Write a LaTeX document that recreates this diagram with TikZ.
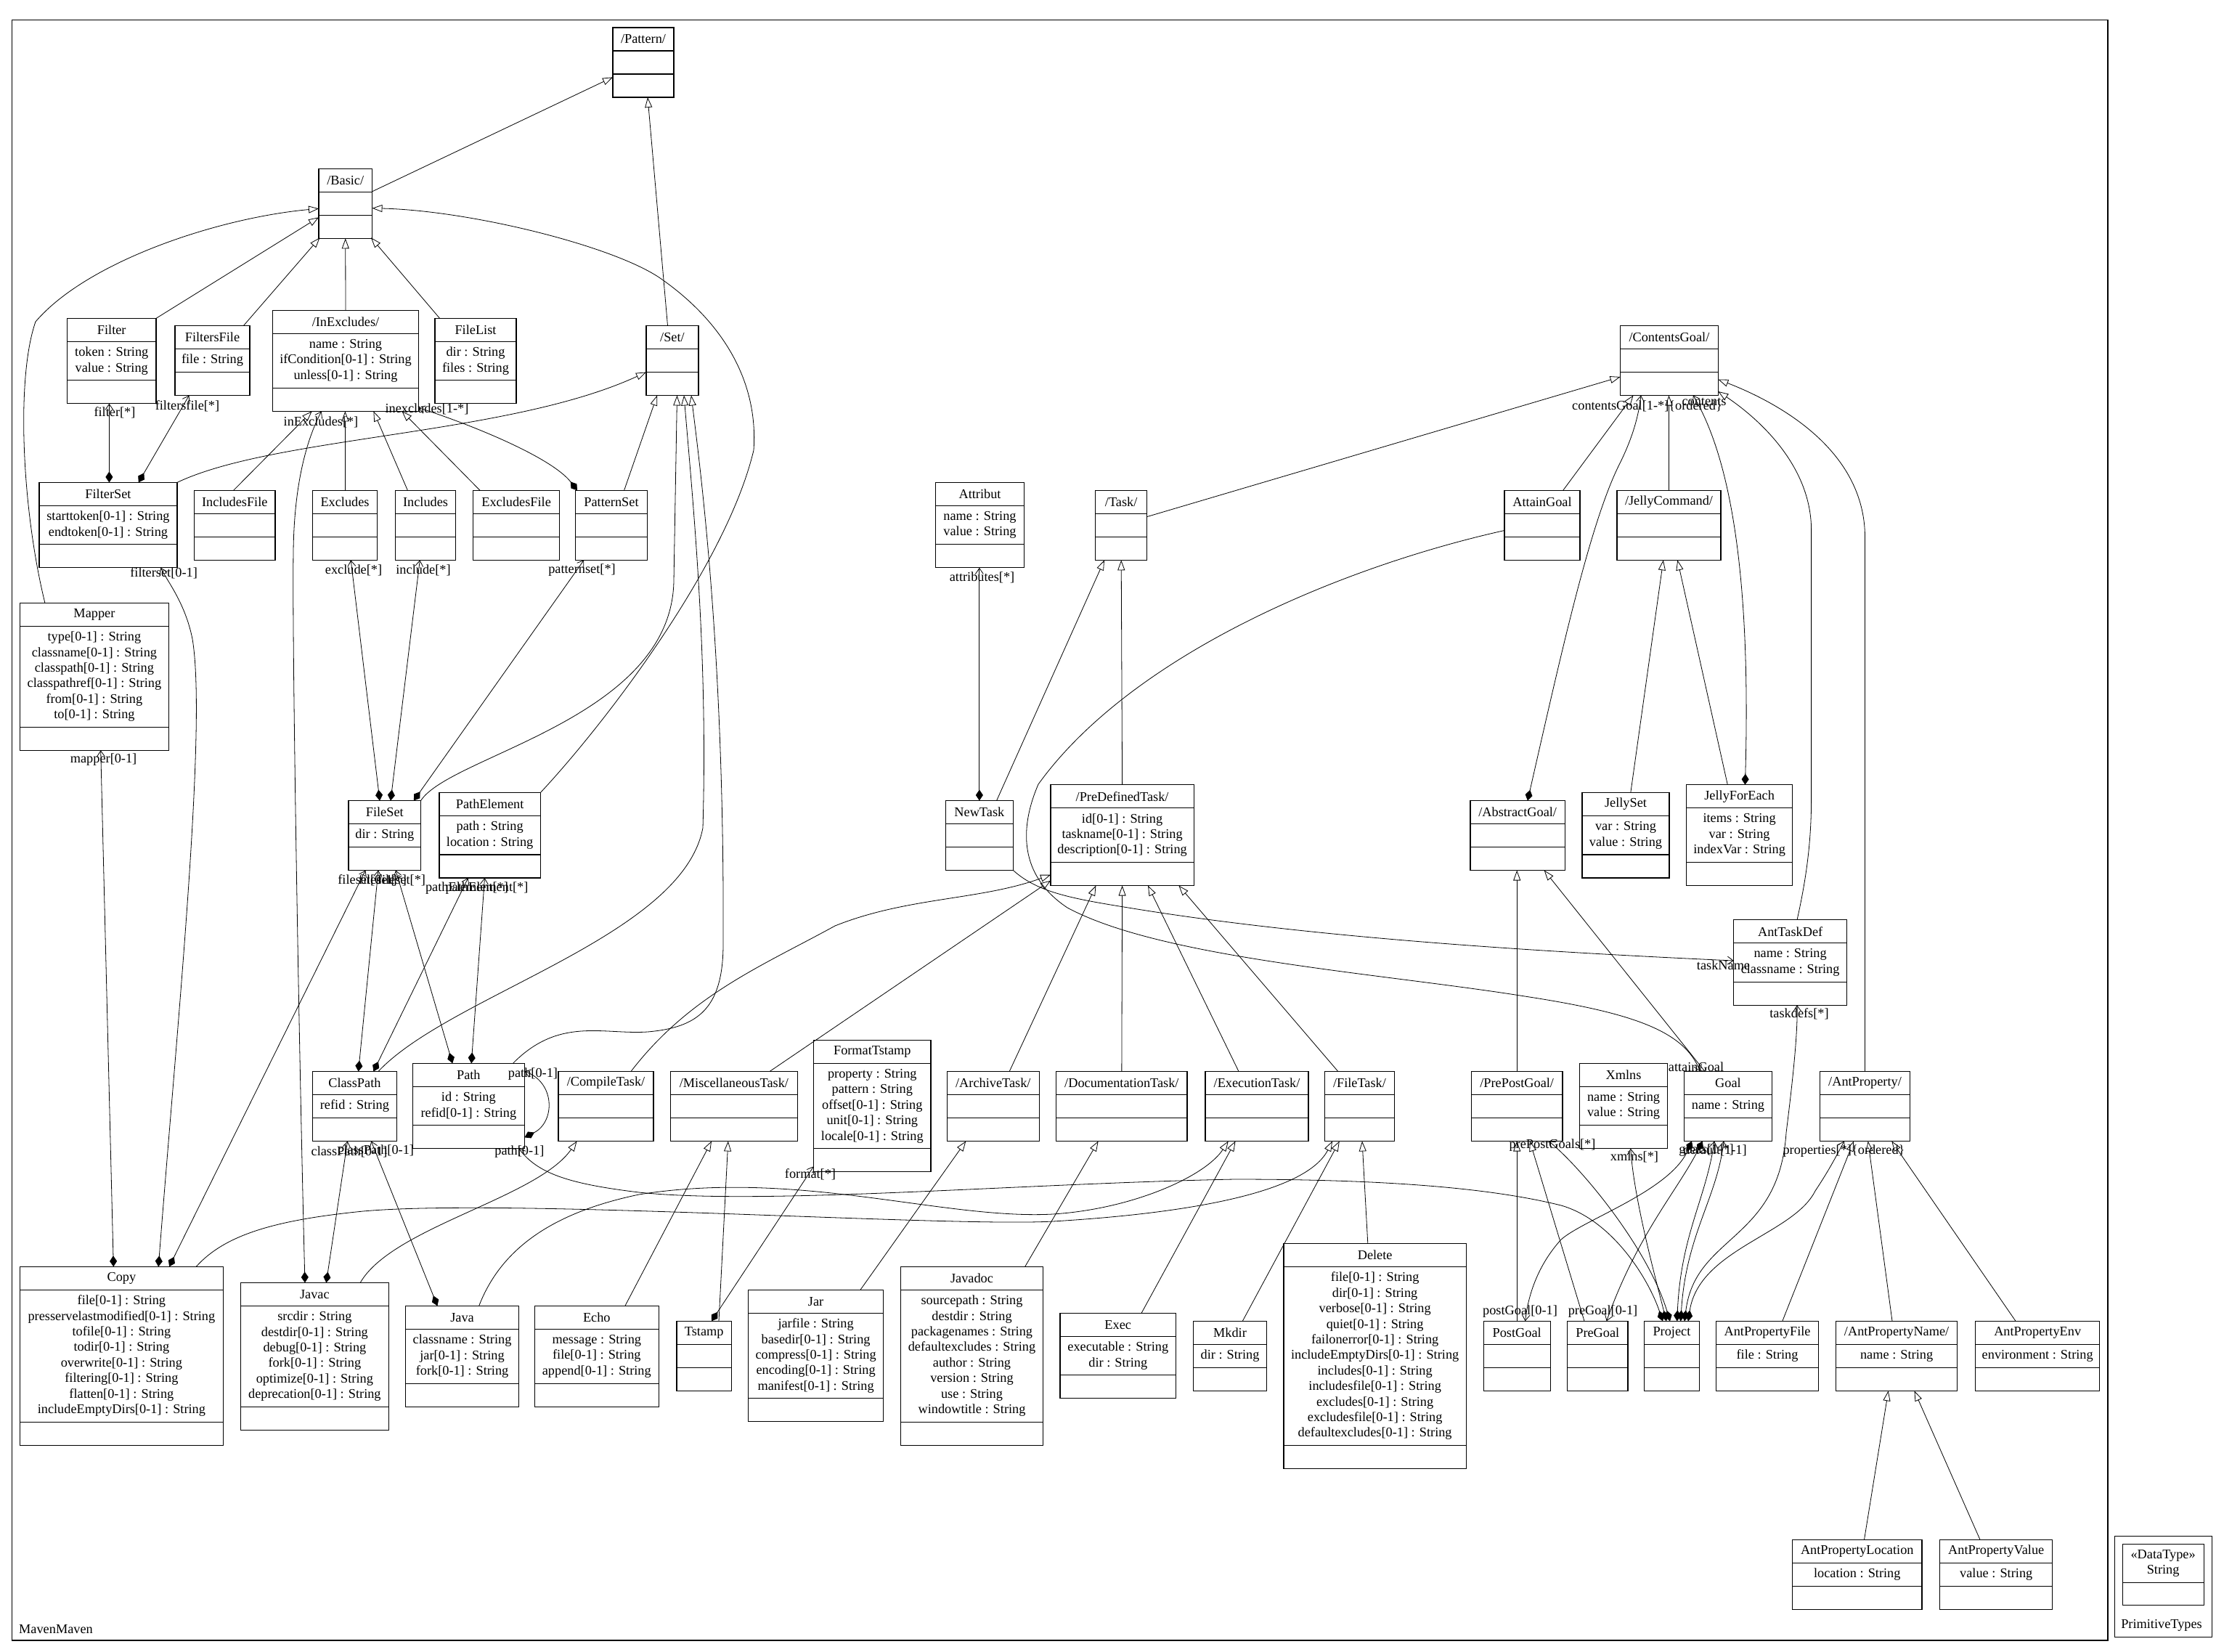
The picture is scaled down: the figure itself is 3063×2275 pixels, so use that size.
\documentclass[tikz,border=0pt]{standalone}
\usepackage{fontspec}
\setmainfont{Liberation Serif}
\usetikzlibrary{arrows.meta}

% UML class box: id, left x, right x, top y, number of attribute lines, name, attributes
\newcommand\umlcls[7]{%
  \pgfmathsetmacro\clsA{max(32,10.6+21.4*#5)}%
  \pgfmathsetmacro\clsH{64+\clsA}%
  \pgfmathsetmacro\clsW{#3-#2}%
  \pgfmathsetmacro\clsC{32+\clsA/2}%
  \node[clsbox, anchor=north west, minimum width=\clsW pt, minimum height=\clsH pt] (#1) at (#2,#4) {};%
  \draw[clsline] ([yshift=-32pt]#1.north west) -- ([yshift=-32pt]#1.north east);%
  \draw[clsline] ([yshift=32pt]#1.south west) -- ([yshift=32pt]#1.south east);%
  \node[lbl] at ([yshift=-16pt]#1.north) {#6};%
  \node[lbl, align=center] at ([yshift=-\clsC pt]#1.north) {#7};%
}

\begin{document}
\begin{tikzpicture}[x=1pt, y=-1pt,
  every node/.style={font=\fontsize{18.3pt}{21.4pt}\selectfont},
  clsbox/.style={draw, line width=1.1pt, inner sep=0pt, outer sep=0pt},
  clsline/.style={line width=1.1pt},
  pkgbox/.style={draw, line width=1.3pt, inner sep=0pt, outer sep=0pt},
  lbl/.style={inner sep=0pt},
  conn/.style={line width=0.8pt},
  gen/.style={conn, -{Triangle[open, length=14pt, width=10pt]}},
  comp/.style={conn, {Diamond[length=15pt, width=10pt]}-{Straight Barb[length=8pt, width=11pt]}},
  assoc/.style={conn, -{Straight Barb[length=8pt, width=11pt]}}]

\useasboundingbox (0,0) rectangle (3063,2275);
\fill[white] (0,0) rectangle (3063,2275);

% packages
\node[pkgbox, anchor=north west, minimum width=2886.6pt, minimum height=2231.8pt] (maven) at (16.3,27.2) {};
\node[lbl, anchor=west] (mavenname) at (26,2244) {MavenMaven};
\node[pkgbox, anchor=north west, minimum width=134.2pt, minimum height=139.5pt] (primtypes) at (2912.6,2115.2) {};
\node[lbl] (primname) at (2977,2238) {PrimitiveTypes};
\node[clsbox, anchor=north west, minimum width=112pt, minimum height=84.4pt] (string) at (2923.1,2126.4) {};
\draw[clsline] ([yshift=-52.9pt]string.north west) -- ([yshift=-52.9pt]string.north east);
\node[lbl, align=center] (stringname) at ([yshift=-26.5pt]string.north) {«DataType»\\String};

% classes
\umlcls{pattern}{844}{928}{38}{0}{/Pattern/}{}
\umlcls{basic}{439}{512.5}{232.3}{0}{/Basic/}{}
\umlcls{filter}{92.5}{215}{438.4}{2}{Filter}{token : String\\value : String}
\umlcls{filtersfile}{241}{344}{448.5}{1}{FiltersFile}{file : String}
\umlcls{inexcludes}{375.7}{576.3}{427.5}{3}{/InExcludes/}{name : String\\ifCondition[0-1] : String\\unless[0-1] : String}
\umlcls{filelist}{599}{711}{438.4}{2}{FileList}{dir : String\\files : String}
\umlcls{set}{890}{962}{448.5}{0}{/Set/}{}
\umlcls{filterset}{54}{244}{664.4}{2}{FilterSet}{starttoken[0-1] : String\\endtoken[0-1] : String}
\umlcls{includesfile}{267.6}{379}{675.3}{0}{IncludesFile}{}
\umlcls{excludes}{430.4}{519.7}{675.3}{0}{Excludes}{}
\umlcls{includes}{544.4}{627.8}{675.3}{0}{Includes}{}
\umlcls{excludesfile}{651.8}{770.4}{675.3}{0}{ExcludesFile}{}
\umlcls{patternset}{792.5}{891.5}{675.3}{0}{PatternSet}{}
\umlcls{mapper}{27.4}{232.5}{830.3}{6}{Mapper}{type[0-1] : String\\classname[0-1] : String\\classpath[0-1] : String\\classpathref[0-1] : String\\from[0-1] : String\\to[0-1] : String}
\umlcls{fileset}{480}{579.6}{1102.5}{1}{FileSet}{dir : String}
\umlcls{pathelement}{605}{744.3}{1091.6}{2}{PathElement}{path : String\\location : String}
\umlcls{classpath}{430.4}{546.4}{1475.5}{1}{ClassPath}{refid : String}
\umlcls{path}{568.5}{722.2}{1464.3}{2}{Path}{id : String\\refid[0-1] : String}
\umlcls{compiletask}{769}{900}{1475.5}{0}{/CompileTask/}{}
\umlcls{misctask}{923.4}{1098.5}{1475.5}{0}{/MiscellaneousTask/}{}
\umlcls{formattstamp}{1120.6}{1282}{1432.3}{5}{FormatTstamp}{property : String\\pattern : String\\offset[0-1] : String\\unit[0-1] : String\\locale[0-1] : String}
\umlcls{archivetask}{1304.3}{1431.3}{1475.5}{0}{/ArchiveTask/}{}
\umlcls{doctask}{1454.7}{1635}{1475.5}{0}{/DocumentationTask/}{}
\umlcls{exectask}{1660}{1802}{1475.5}{0}{/ExecutionTask/}{}
\umlcls{filetask}{1824.6}{1920.3}{1475.5}{0}{/FileTask/}{}
\umlcls{attribut}{1288.6}{1410.4}{664.4}{2}{Attribut}{name : String\\value : String}
\umlcls{task}{1508.7}{1579.7}{675.3}{0}{/Task/}{}
\umlcls{newtask}{1302.3}{1395.4}{1102.5}{0}{NewTask}{}
\umlcls{predefinedtask}{1447}{1644.2}{1080.7}{3}{/PreDefinedTask/}{id[0-1] : String\\taskname[0-1] : String\\description[0-1] : String}
\umlcls{contentsgoal}{2231.5}{2366.3}{448.5}{0}{/ContentsGoal/}{}
\umlcls{attaingoal}{2072}{2176}{675.3}{0}{AttainGoal}{}
\umlcls{jellycommand}{2227}{2370}{675.3}{0}{/JellyCommand/}{}
\umlcls{abstractgoal}{2025}{2155.3}{1102.5}{0}{/AbstractGoal/}{}
\umlcls{jellyset}{2179}{2299}{1091.6}{2}{JellySet}{var : String\\value : String}
\umlcls{jellyforeach}{2322.7}{2468.5}{1080.7}{3}{JellyForEach}{items : String\\var : String\\indexVar : String}
\umlcls{anttaskdef}{2387.8}{2543.4}{1266.8}{2}{AntTaskDef}{name : String\\classname : String}
\umlcls{prepostgoal}{2026.4}{2152}{1475.5}{0}{/PrePostGoal/}{}
\umlcls{xmlns}{2175.5}{2296.6}{1464.3}{2}{Xmlns}{name : String\\value : String}
\umlcls{goal}{2319.4}{2440.5}{1475.5}{1}{Goal}{name : String}
\umlcls{antproperty}{2506.3}{2630.7}{1475.5}{0}{/AntProperty/}{}
\umlcls{copy}{27.4}{307.4}{1744.3}{8}{Copy}{file[0-1] : String\\presservelastmodified[0-1] : String\\tofile[0-1] : String\\todir[0-1] : String\\overwrite[0-1] : String\\filtering[0-1] : String\\flatten[0-1] : String\\includeEmptyDirs[0-1] : String}
\umlcls{javac}{331.5}{535.3}{1766.4}{6}{Javac}{srcdir : String\\destdir[0-1] : String\\debug[0-1] : String\\fork[0-1] : String\\optimize[0-1] : String\\deprecation[0-1] : String}
\umlcls{java}{558.7}{714.4}{1798.3}{3}{Java}{classname : String\\jar[0-1] : String\\fork[0-1] : String}
\umlcls{echo}{736.5}{907.1}{1798.3}{3}{Echo}{message : String\\file[0-1] : String\\append[0-1] : String}
\umlcls{tstamp}{932}{1007.4}{1819.3}{0}{Tstamp}{}
\umlcls{jar}{1030.8}{1216.4}{1776.2}{5}{Jar}{jarfile : String\\basedir[0-1] : String\\compress[0-1] : String\\encoding[0-1] : String\\manifest[0-1] : String}
\umlcls{javadoc}{1240.5}{1436.5}{1744.3}{8}{Javadoc}{sourcepath : String\\destdir : String\\packagenames : String\\defaultexcludes : String\\author : String\\version : String\\use : String\\windowtitle : String}
\umlcls{exec}{1460}{1619.5}{1808.4}{2}{Exec}{executable : String\\dir : String}
\umlcls{mkdir}{1643.5}{1744.5}{1819.3}{1}{Mkdir}{dir : String}
\umlcls{delete}{1768}{2019.3}{1712.4}{11}{Delete}{file[0-1] : String\\dir[0-1] : String\\verbose[0-1] : String\\quiet[0-1] : String\\failonerror[0-1] : String\\includeEmptyDirs[0-1] : String\\includes[0-1] : String\\includesfile[0-1] : String\\excludes[0-1] : String\\excludesfile[0-1] : String\\defaultexcludes[0-1] : String}
\umlcls{postgoal}{2043.3}{2135.1}{1819.3}{0}{PostGoal}{}
\umlcls{pregoal}{2158.6}{2242}{1819.3}{0}{PreGoal}{}
\umlcls{project}{2264.7}{2340.2}{1819.3}{0}{Project}{}
\umlcls{antpropertyfile}{2363.7}{2504.4}{1819.3}{1}{AntPropertyFile}{file : String}
\umlcls{antpropertyname}{2528.4}{2695.8}{1819.3}{1}{/AntPropertyName/}{name : String}
\umlcls{antpropertyenv}{2720.6}{2891.8}{1819.3}{1}{AntPropertyEnv}{environment : String}
\umlcls{antpropertylocation}{2468.5}{2647}{2120.3}{1}{AntPropertyLocation}{location : String}
\umlcls{antpropertyvalue}{2671.7}{2826.7}{2120.3}{1}{AntPropertyValue}{value : String}

% ---------------- generalizations ----------------
\draw[gen] ([shift={(73.5,31.5)}]basic.north west) -- ([shift={(0,68.3)}]pattern.north west);
\draw[gen] ([shift={(29.5,0)}]set.north west) -- ([shift={(48,96)}]pattern.north west);
\draw[gen] (filter.north east) -- ([shift={(0,67)}]basic.north west);
\draw[gen] ([shift={(94.4,0)}]filtersfile.north west) -- ([shift={(1.5,95)}]basic.north west);
\draw[gen] (inexcludes.north) -- (basic.south);
\draw[gen] ([shift={(6.6,0)}]filelist.north west) -- ([shift={(72,95)}]basic.north west);
\draw[gen] ([shift={(34.5,0)}]mapper.north west) .. controls (30,700) and (22,520) .. (49,443)
  .. controls (120,360) and (300,300) .. ([shift={(0,55)}]basic.north west);
\draw[gen] (pathelement.north east) .. controls (830,1000) and (1000,780) .. (1038,620)
  .. controls (1045,520) and (990,440) .. (912,385)
  .. controls (850,340) and (650,290) .. ([shift={(73.5,54.4)}]basic.north west);
\draw[gen] ([shift={(54,0)}]includesfile.north west) -- ([shift={(54,138.8)}]inexcludes.north west);
\draw[gen] ([shift={(45,0)}]excludes.north west) -- ([shift={(99.7,138.8)}]inexcludes.north west);
\draw[gen] ([shift={(17,0)}]includes.north west) -- ([shift={(138.7,138.8)}]inexcludes.north west);
\draw[gen] ([shift={(9.2,0)}]excludesfile.north west) -- ([shift={(177.8,138.8)}]inexcludes.north west);

\draw[gen] (filterset.north east) .. controls (380,600) and (700,600) .. ([shift={(0,64)}]set.north west);
\draw[gen] ([shift={(67.1,0)}]patternset.north west) -- ([shift={(15,96)}]set.north west);
\draw[gen] (fileset.north east) .. controls (620,1040) and (925,990) .. (928,800) -- ([shift={(42.5,96)}]set.north west);
\draw[gen] ([shift={(90.6,0)}]classpath.north west) .. controls (620,1370) and (940,1290) .. (968,1140)
  .. controls (975,900) and (955,700) .. ([shift={(52,96)}]set.north west);
\draw[gen] ([shift={(138,0)}]path.north west) .. controls (770,1400) and (830,1425) .. (892,1421)
  .. controls (960,1415) and (996,1390) .. (996,1300)
  .. controls (998,900) and (965,650) .. ([shift={(62,96)}]set.north west);

\draw[gen] ([shift={(100,0)}]compiletask.north west) .. controls (950,1370) and (1050,1330) .. (1150,1275)
  .. controls (1250,1235) and (1350,1240) .. ([shift={(0,124)}]predefinedtask.north west);
\draw[gen] ([shift={(136.6,0)}]misctask.north west) -- ([shift={(0,132)}]predefinedtask.north west);
\draw[gen] ([shift={(70.3,0)}]newtask.north west) -- ([shift={(12.3,96)}]task.north west);
\draw[gen] (predefinedtask.north) -- (task.south);
\draw[gen] ([shift={(71,36.3)}]task.north west) -- ([shift={(0,70.5)}]contentsgoal.north west);
\draw[gen] ([shift={(85.9,0)}]archivetask.north west) -- ([shift={(62.4,138.8)}]predefinedtask.north west);
\draw[gen] (doctask.north) -- (predefinedtask.south);
\draw[gen] ([shift={(46,0)}]exectask.north west) -- ([shift={(134,138.8)}]predefinedtask.north west);
\draw[gen] ([shift={(18.2,0)}]filetask.north west) -- ([shift={(176.4,138.8)}]predefinedtask.north west);

\draw[gen] ([shift={(80.7,0)}]attaingoal.north west) -- ([shift={(18,96)}]contentsgoal.north west);
\draw[gen] (jellycommand.north) -- (jellycommand.north |- contentsgoal.south);
\draw[gen] ([shift={(87.2,0)}]anttaskdef.north west) .. controls (2490,1200) and (2494.6,1150) .. (2494.6,1100)
  -- (2494.6,730) .. controls (2494.6,640) and (2420,575) .. ([shift={(134.8,90.5)}]contentsgoal.north west);
\draw[gen] (antproperty.north) -- (2568.5,740) .. controls (2568.5,620) and (2450,555) .. ([shift={(134.8,74)}]contentsgoal.north west);
\draw[gen] ([shift={(66.8,0)}]jellyset.north west) -- ([shift={(63.8,96)}]jellycommand.north west);
\draw[gen] ([shift={(56.6,0)}]jellyforeach.north west) -- ([shift={(83.3,96)}]jellycommand.north west);
\draw[gen] (prepostgoal.north) -- (prepostgoal.north |- abstractgoal.south);
\draw[gen] ([shift={(28.6,0)}]goal.north west) -- ([shift={(101.7,96)}]abstractgoal.north west);
\draw[gen] (postgoal.north) -- (postgoal.north |- prepostgoal.south);
\draw[gen] ([shift={(23.4,0)}]pregoal.north west) -- ([shift={(80.6,96)}]prepostgoal.north west);
\draw[gen] ([shift={(91.1,0)}]antpropertyfile.north west) -- ([shift={(46.7,96)}]antproperty.north west);
\draw[gen] ([shift={(77.6,0)}]antpropertyname.north west) -- ([shift={(66.4,96)}]antproperty.north west);
\draw[gen] ([shift={(55.4,0)}]antpropertyenv.north west) -- ([shift={(99,96)}]antproperty.north west);
\draw[gen] ([shift={(99,0)}]antpropertylocation.north west) -- ([shift={(72.3,96)}]antpropertyname.north west);
\draw[gen] ([shift={(55.3,0)}]antpropertyvalue.north west) -- ([shift={(108.1,96)}]antpropertyname.north west);

\draw[gen] ([shift={(154.2,0)}]jar.north west) -- ([shift={(26,96)}]archivetask.north west);
\draw[gen] ([shift={(171.2,0)}]javadoc.north west) -- ([shift={(57.9,96)}]doctask.north west);
\draw[gen] ([shift={(112,0)}]exec.north west) -- ([shift={(41.5,96)}]exectask.north west);
\draw[gen] ([shift={(67.8,0)}]mkdir.north west) -- ([shift={(20.2,96)}]filetask.north west);
\draw[gen] ([shift={(115.8,0)}]delete.north west) -- ([shift={(51.4,96)}]filetask.north west);
\draw[gen] ([shift={(101,0)}]java.north west) .. controls (690,1720) and (760,1670) .. (880,1645)
  .. controls (1100,1610) and (1300,1680) .. (1450,1672)
  .. controls (1560,1665) and (1660,1620) .. ([shift={(31.7,96)}]exectask.north west);
\draw[gen] ([shift={(242.8,0)}]copy.north west) .. controls (310,1700) and (380,1680) .. (500,1668)
  .. controls (700,1650) and (1300,1690) .. (1450,1682)
  .. controls (1650,1670) and (1800,1640) .. ([shift={(10.4,96)}]filetask.north west);
\draw[gen] ([shift={(164.7,0)}]javac.north west) .. controls (540,1690) and (740,1650) .. ([shift={(25.5,96)}]compiletask.north west);
\draw[gen] ([shift={(124.4,0)}]echo.north west) -- ([shift={(56.6,96)}]misctask.north west);
\draw[gen] ([shift={(58,0)}]tstamp.north west) -- ([shift={(79.4,96)}]misctask.north west);

% ---------------- compositions ----------------
\draw[comp] ([shift={(96.4,0)}]filterset.north west) -- ([shift={(57.9,117.4)}]filter.north west);
\draw[comp] ([shift={(136.8,0)}]filterset.north west) -- ([shift={(19.5,96)}]filtersfile.north west);
\draw[comp] ([shift={(43,0)}]fileset.north west) -- ([shift={(52.8,96)}]excludes.north west);
\draw[comp] ([shift={(58,0)}]fileset.north west) -- ([shift={(33.9,96)}]includes.north west);
\draw[comp] ([shift={(89.9,0)}]fileset.north west) -- ([shift={(11.7,96)}]patternset.north west);
\draw[comp] ([shift={(2.5,0)}]patternset.north west) .. controls (760,630) and (650,585) .. ([shift={(200.6,134)}]inexcludes.north west);
\draw[comp] ([shift={(88.5,0)}]javac.north west) .. controls (413,1500) and (402,900) .. (404,760)
  .. controls (405,660) and (425,600) .. ([shift={(67.1,138.8)}]inexcludes.north west);
\draw[comp] ([shift={(117.8,0)}]javac.north west) -- ([shift={(48.2,96)}]classpath.north west);
\draw[comp] ([shift={(43.7,0)}]java.north west) -- ([shift={(80.8,96)}]classpath.north west);
\draw[comp] ([shift={(63.2,0)}]classpath.north west) -- ([shift={(41,96)}]fileset.north west);
\draw[comp] ([shift={(84,0)}]classpath.north west) -- ([shift={(39.7,117.4)}]pathelement.north west);
\draw[comp] ([shift={(54.7,0)}]path.north west) -- ([shift={(65,96)}]fileset.north west);
\draw[comp] ([shift={(80.7,0)}]path.north west) -- ([shift={(62.5,117.4)}]pathelement.north west);
\draw[comp] ([shift={(205.7,0)}]copy.north west) -- ([shift={(23.4,96)}]fileset.north west);
\draw[comp] ([shift={(190.8,0)}]copy.north west) .. controls (245,1400) and (285,1000) .. (265,880)
  .. controls (255,830) and (230,800) .. ([shift={(167.4,117.4)}]filterset.north west);
\draw[comp] ([shift={(128.9,0)}]copy.north west) -- ([shift={(111.3,203)}]mapper.north west);
\draw[comp] (newtask.north) -- (newtask.north |- attribut.south);
\draw[comp] ([shift={(48,0)}]tstamp.north west) -- ([shift={(0,174)}]formattstamp.north west);
\draw[comp] ([shift={(154,102)}]path.north west) .. controls (765,1545) and (765,1490) .. ([shift={(153.7,11)}]path.north west);
\draw[comp] ([shift={(25.3,0)}]project.north west) .. controls (2270,1760) and (2220,1680) .. (2150,1660)
  .. controls (2050,1635) and (1900,1624) .. (1700,1624)
  .. controls (1400,1630) and (1050,1660) .. (880,1642)
  .. controls (780,1630) and (740,1615) .. ([shift={(146,117.4)}]path.north west);
\draw[comp] ([shift={(30.3,0)}]project.north west) .. controls (2280,1760) and (2250,1650) .. ([shift={(70.3,117.4)}]xmlns.north west);
\draw[comp] ([shift={(35.3,0)}]project.north west) .. controls (2270,1720) and (2180,1610) .. ([shift={(106.6,96)}]prepostgoal.north west);
\draw[comp] ([shift={(45,0)}]project.north west) .. controls (2315,1700) and (2350,1650) .. ([shift={(41.6,96)}]goal.north west);
\draw[comp] ([shift={(50,0)}]project.north west) .. controls (2322,1700) and (2365,1650) .. ([shift={(54.6,96)}]goal.north west);
\draw[comp] ([shift={(55.3,0)}]project.north west) .. controls (2335,1700) and (2450,1710) .. (2460,1560)
  .. controls (2470,1480) and (2476,1420) .. ([shift={(87.2,117.4)}]anttaskdef.north west);
\draw[comp] ([shift={(60.3,0)}]project.north west) .. controls (2340,1720) and (2470,1700) .. (2500,1640)
  .. controls (2520,1610) and (2530,1590) .. ([shift={(33.7,96)}]antproperty.north west);
\draw[comp] ([shift={(10.6,96)}]goal.north west) .. controls (2300,1640) and (2180,1680) .. (2150,1707)
  .. controls (2120,1740) and (2105,1780) .. ([shift={(57.3,0)}]postgoal.north west);
\draw[comp] ([shift={(25.4,96)}]goal.north west) .. controls (2310,1640) and (2255,1700) .. ([shift={(54,0)}]pregoal.north west);
\draw[comp] ([shift={(78.9,0)}]abstractgoal.north west) .. controls (2150,900) and (2190,720) .. (2230,640)
  .. controls (2250,600) and (2257,570) .. ([shift={(28.5,96)}]contentsgoal.north west);
\draw[comp] ([shift={(80.7,0)}]jellyforeach.north west) .. controls (2410,850) and (2395,650) .. ([shift={(100.3,96)}]contentsgoal.north west);

% ---------------- plain associations ----------------
\draw[assoc] ([shift={(0,55.2)}]attaingoal.north west) .. controls (1850,780) and (1560,900) .. (1430,1080)
  .. controls (1400,1150) and (1410,1210) .. (1470,1250)
  .. controls (1600,1320) and (1900,1340) .. (2100,1372)
  .. controls (2250,1395) and (2320,1420) .. ([shift={(22.1,0)}]goal.north west);
\draw[assoc] (newtask.south east) .. controls (1430,1230) and (1480,1238) .. (1560,1251)
  .. controls (1800,1290) and (2100,1310) .. ([shift={(0,56.2)}]anttaskdef.north west);

% ---------------- role names ----------------
\node[lbl] (r-filter) at (158,568) {filter[*]};
\node[lbl] (r-filtersfile) at (258,559) {filtersfile[*]};
\node[lbl] (r-inexcl) at (442,581) {inExcludes[*]};
\node[lbl] (r-inexcl2) at (588,563) {inexcludes[1-*]};
\node[lbl] (r-exclude) at (487,785) {exclude[*]};
\node[lbl] (r-include) at (583,785) {include[*]};
\node[lbl] (r-patternset) at (801.5,785) {patternset[*]};
\node[lbl] (r-filterset) at (225.6,789) {filterset[0-1]};
\node[lbl] (r-mapper) at (142.6,1046) {mapper[0-1]};
\node[lbl] (r-attributes) at (1352.5,795) {attributes[*]};
\node[lbl] (r-fileset1) at (506,1212) {fileset[0-1]};
\node[lbl] (r-fileset2) at (527,1212) {fileset[*]};
\node[lbl] (r-fileset3) at (553,1212) {fileset[*]};
\node[lbl] (r-pathel1) at (643,1223) {pathElement[*]};
\node[lbl] (r-pathel2) at (670.5,1223) {pathElement[*]};
\node[lbl] (r-classpath1) at (481,1586) {classPath[0-1]};
\node[lbl] (r-classpath2) at (517.7,1584) {classPath[0-1]};
\node[lbl] (r-path1) at (734,1479) {path[0-1]};
\node[lbl] (r-path2) at (715.4,1586) {path[0-1]};
\node[lbl] (r-format) at (1116,1617) {format[*]};
\node[lbl] (r-taskname) at (2373.5,1329) {taskName};
\node[lbl] (r-taskdefs) at (2478,1396) {taskdefs[*]};
\node[lbl] (r-attaingoal) at (2336,1469) {attainGoal};
\node[lbl, anchor=west] (r-contentsgoal) at (2165,559) {contentsGoal[1-*]\{ordered\}};
\node[lbl] (r-contents) at (2347,553) {contents};
\node[lbl] (r-prepost) at (2138,1577) {prePostGoals[*]};
\node[lbl] (r-xmlns) at (2251,1593) {xmlns[*]};
\node[lbl] (r-goals1) at (2350,1584) {goals[1-*]};
\node[lbl] (r-goals2) at (2362,1584) {default[1-1]};
\node[lbl] (r-properties) at (2539.5,1585.5) {properties[*]\{ordered\}};
\node[lbl] (r-postgoal) at (2093.5,1806) {postGoal[0-1]};
\node[lbl] (r-pregoal) at (2207.5,1806) {preGoal[0-1]};

\end{tikzpicture}
\end{document}
